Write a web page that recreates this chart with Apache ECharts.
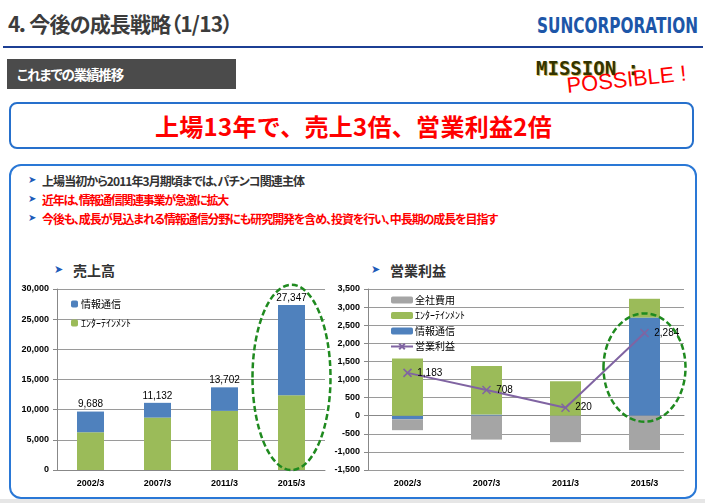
<!DOCTYPE html>
<html>
<head>
<meta charset="utf-8">
<script src="https://cdn.jsdelivr.net/npm/echarts@6/dist/echarts.min.js"></script>
<style>
  body { margin: 0; background: #fff; }
  #slide { position: relative; width: 705px; height: 503px; overflow: hidden; background: #fff;
    font-family: "Noto Sans CJK JP", sans-serif; font-feature-settings: "palt"; }
  .abs { position: absolute; white-space: nowrap; }
  .title { left: 8px; top: 8px; font-size: 21px; line-height: 30px; font-weight: bold; color: #3c3c3c; }
  .logo { left: 537px; top: 14px; font-family: "DejaVu Sans", sans-serif; font-size: 22px; line-height: 24px;
    font-weight: bold; color: #1d56a8; transform-origin: 0 0; }
  .rule { left: 3px; top: 46px; width: 700px; height: 2px; background: #1c3f94; }
  .graybox { left: 7px; top: 59px; width: 229px; height: 30px; background: #4b4b4b; }
  .graytext { left: 17px; top: 64px; font-size: 13.5px; line-height: 20px; font-weight: bold; color: #fff; }
  .mission { left: 536px; top: 57px; font-family: "DejaVu Sans Mono", monospace; font-size: 19px; line-height: 22px;
    font-weight: bold; color: #333300; text-shadow: 1px 1px 0 #d8c060; }
  .possible { left: 568px; top: 75px; font-family: "Liberation Sans", sans-serif; font-size: 22px; line-height: 22px;
    color: #ff0000; transform-origin: 0 100%; }
  .headline { left: 9px; top: 102px; width: 681px; height: 43px; border: 2px solid #2670cc; border-radius: 8px; }
  .headtext { left: 155px; top: 102px; height: 47px; line-height: 47px;
    font-size: 24px; font-weight: bold; color: #ff0000; font-feature-settings: normal; }
  .panel { left: 9px; top: 164px; width: 684px; height: 331px; border: 2px solid #2a78d6; border-radius: 12px; }
  .strip { left: 0; top: 499px; width: 705px; height: 4px; background: #e6e6e6; }
  .bullet { left: 42px; font-size: 12px; line-height: 16px; font-weight: bold; }
  .arrow { position: absolute; font-family: "DejaVu Sans", sans-serif; color: #1e5bb8; }
  .sub { font-size: 14px; line-height: 18px; font-weight: bold; color: #333; }
  #chart { position: absolute; left: 0; top: 255px; width: 705px; height: 245px; }
</style>
</head>
<body>
<div id="slide">
  <div class="abs title" data-w="224">4．今後の成長戦略（1/13）</div>
  <div class="abs logo" data-w="161" data-mode="sx">SUNCORPORATION</div>
  <div class="abs rule"></div>
  <div class="abs graybox"></div>
  <div class="abs graytext" data-w="106">これまでの業績推移</div>
  <div class="abs mission">MISSION :</div>
  <div class="abs possible" data-w="120" data-mode="sx" data-rot="-6">POSSIBLE !</div>
  <div class="abs headline"></div>
  <div class="abs headtext" data-w="397">上場13年で、売上3倍、営業利益2倍</div>
  <div class="abs panel"></div>
  <div class="abs strip"></div>
  <div class="arrow" style="left:28px;top:174px;font-size:10px">➤</div>
  <div class="arrow" style="left:28px;top:193px;font-size:10px">➤</div>
  <div class="arrow" style="left:28px;top:212px;font-size:10px">➤</div>
  <div class="abs bullet" style="top:173px;color:#333" data-w="262">上場当初から2011年3月期頃までは、パチンコ関連主体</div>
  <div class="abs bullet" style="top:192px;color:#ff0000" data-w="186">近年は、情報通信関連事業が急激に拡大</div>
  <div class="abs bullet" style="top:211px;color:#ff0000" data-w="455">今後も、成長が見込まれる情報通信分野にも研究開発を含め、投資を行い、中長期の成長を目指す</div>
  <div class="arrow" style="left:54px;top:263px;font-size:11px">➤</div>
  <div class="arrow" style="left:371px;top:263px;font-size:11px">➤</div>
  <div class="abs sub" style="left:73px;top:261px" data-w="42">売上高</div>
  <div class="abs sub" style="left:390px;top:261px" data-w="56">営業利益</div>
  <div id="chart"></div>
</div>
<script>
// 決算期
const years = ["2002/3", "2007/3", "2011/3", "2015/3"];
// 売上高（百万円）
const salesEnt = [6260, 8690, 9800, 12400];
const salesInfo = [3428, 2442, 3902, 14947];
const salesTotal = [9688, 11132, 13702, 27347];
// 営業利益（百万円）
const profitInfo = [-100, 30, -5, 2710];
const profitEnt = [1580, 1340, 950, 520];
const profitCorp = [-300, -660, -725, -946];
const profitOp = [1183, 708, 220, 2284];
// 目盛り
const salesAxis = [0, 30000, 5000];
const profitAxis = [-1500, 3500, 500];

// スライド文字の幅合わせ（字間 or 横倍率）
document.querySelectorAll("[data-w]").forEach(el => {
	const target = +el.dataset.w;
	const w = el.getBoundingClientRect().width;
	const rot = el.dataset.rot ? ` rotate(${el.dataset.rot}deg)` : "";
	if (el.dataset.mode === "sx") {
		el.style.transform = `${rot} scaleX(${target / w})`;
	} else {
		const n = el.textContent.length;
		el.style.letterSpacing = ((target - w) / n).toFixed(2) + "px";
		if (rot) el.style.transform = rot;
	}
});

const GREEN = "#9bbb59", BLUE = "#4f81bd", GRAY = "#a5a5a5", PURPLE = "#8064a2";
const fmt = v => Number(v).toLocaleString("en-US");
const numFont = { fontFamily: "Liberation Sans", fontSize: 9, fontWeight: "bold", color: "#000" };
const jpFont = { fontFamily: "Noto Sans CJK JP", fontSize: 10, color: "#000" };

const yAxisBase = (grid, r) => ({
	type: "value",
	gridIndex: grid,
	min: r[0],
	max: r[1],
	interval: r[2],
	axisLine: { show: true, lineStyle: { color: "#888" } },
	axisTick: { show: true, length: 4, lineStyle: { color: "#888" } },
	axisLabel: { ...numFont, margin: 8, formatter: v => fmt(v) },
	splitLine: { lineStyle: { color: "#9a9a9a" } }
});

const chart = echarts.init(document.getElementById("chart"));
chart.setOption({
	animation: false,
	grid: [
		{ left: 57, top: 34, width: 268, height: 181 },
		{ left: 368, top: 34, width: 316, height: 181 }
	],
	legend: [
		{
			orient: "vertical",
			left: 66,
			top: 38,
			itemWidth: 7,
			itemHeight: 7,
			itemGap: 7,
			textStyle: { ...jpFont, lineHeight: 12, padding: [0, 0, 0, -2] },
			data: ["情報通信", "ｴﾝﾀｰﾃｲﾝﾒﾝﾄ"]
		},
		{
			orient: "vertical",
			left: 385,
			top: 34,
			itemWidth: 22,
			itemHeight: 7,
			itemGap: 3.5,
			textStyle: { ...jpFont, lineHeight: 12, padding: [0, 0, 0, -3] },
			data: ["全社費用", "ｴﾝﾀｰﾃｲﾝﾒﾝﾄ", "情報通信", "営業利益"]
		}
	],
	xAxis: [
		{
			type: "category",
			gridIndex: 0,
			data: years,
			axisLine: { lineStyle: { color: "#888" } },
			axisTick: { length: 4, lineStyle: { color: "#888" } },
			axisLabel: { ...numFont, margin: 9 }
		},
		{
			type: "category",
			gridIndex: 1,
			data: years,
			axisLine: { show: false, onZero: false },
			axisTick: { show: false },
			axisLabel: { ...numFont, margin: 9 }
		},
		{
			type: "category",
			gridIndex: 1,
			data: years,
			position: "bottom",
			axisLine: { onZero: true, lineStyle: { color: "#888" } },
			axisTick: { length: 4, lineStyle: { color: "#888" } },
			axisLabel: { show: false }
		}
	],
	yAxis: [yAxisBase(0, salesAxis), yAxisBase(1, profitAxis)],
	series: [
		{
			name: "ｴﾝﾀｰﾃｲﾝﾒﾝﾄ",
			type: "bar",
			stack: "sales",
			xAxisIndex: 0,
			yAxisIndex: 0,
			barWidth: 27,
			itemStyle: { color: GREEN },
			data: salesEnt
		},
		{
			name: "情報通信",
			type: "bar",
			stack: "sales",
			xAxisIndex: 0,
			yAxisIndex: 0,
			barWidth: 27,
			itemStyle: { color: BLUE },
			label: {
				show: true,
				position: "top",
				distance: 2,
				fontFamily: "Liberation Sans",
				fontSize: 10,
				color: "#000",
				formatter: p => fmt(salesTotal[p.dataIndex])
			},
			data: salesInfo
		},
		{
			name: "情報通信",
			type: "bar",
			stack: "profit",
			xAxisIndex: 1,
			yAxisIndex: 1,
			barWidth: 31,
			itemStyle: { color: BLUE },
			data: profitInfo
		},
		{
			name: "ｴﾝﾀｰﾃｲﾝﾒﾝﾄ",
			type: "bar",
			stack: "profit",
			xAxisIndex: 1,
			yAxisIndex: 1,
			barWidth: 31,
			itemStyle: { color: GREEN },
			data: profitEnt
		},
		{
			name: "全社費用",
			type: "bar",
			stack: "profit",
			xAxisIndex: 1,
			yAxisIndex: 1,
			barWidth: 31,
			itemStyle: { color: GRAY },
			data: profitCorp
		},
		{
			name: "営業利益",
			type: "line",
			xAxisIndex: 1,
			yAxisIndex: 1,
			symbol: "path://M0,0L10,10M10,0L0,10",
			symbolSize: 8,
			lineStyle: { color: PURPLE, width: 2 },
			itemStyle: { color: PURPLE, borderColor: PURPLE, borderWidth: 1.5 },
			label: {
				show: true,
				position: "right",
				distance: 5,
				fontFamily: "Liberation Sans",
				fontSize: 10,
				color: "#000",
				formatter: p => fmt(p.value)
			},
			z: 5,
			data: profitOp
		}
	]
});

// 強調の点線楕円（2015/3 の棒を囲む）
const marks = [
	{ grid: 0, cat: 3, lo: 0, hi: 30700, rx: 39 },
	{ grid: 1, cat: 3, lo: -166, hi: 2825, rx: 41 }
];
chart.setOption({
	graphic: marks.map(m => {
		const top = chart.convertToPixel({ gridIndex: m.grid }, [m.cat, m.hi]);
		const bot = chart.convertToPixel({ gridIndex: m.grid }, [m.cat, m.lo]);
		return {
			type: "ellipse",
			z: 10,
			shape: { cx: top[0], cy: (top[1] + bot[1]) / 2, rx: m.rx, ry: (bot[1] - top[1]) / 2 },
			style: { fill: "none", stroke: "#1f8a1f", lineWidth: 2.5, lineDash: [6, 3] }
		};
	})
});
</script>
</body>
</html>
